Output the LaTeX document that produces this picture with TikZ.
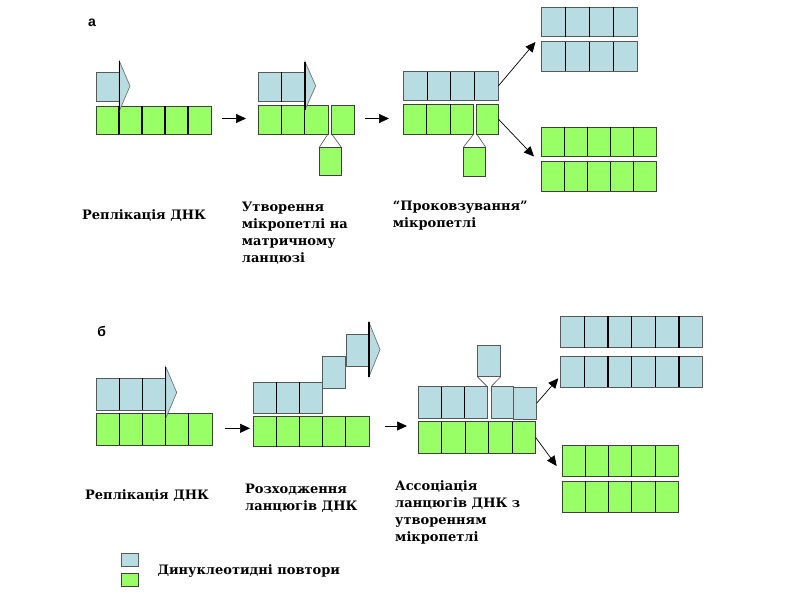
\documentclass[tikz,border=0pt]{standalone}
\usepackage{fontspec}
\setmainfont{DejaVu Serif}
\newfontfamily\sansf{Liberation Sans}
\usetikzlibrary{calc,arrows.meta}
\definecolor{lblue}{RGB}{183,221,227}
\definecolor{lgreen}{RGB}{153,255,102}
\tikzset{
  cellb/.style={draw=black!65, fill=lblue, line width=0.9pt, inner sep=0, outer sep=0},
  cellg/.style={draw=black!75, fill=lgreen, line width=0.9pt, inner sep=0, outer sep=0},
  sepline/.style={black, line width=1.1pt},
  conn/.style={-{Triangle[length=10pt,width=9pt]}, line width=0.7pt, black},
  loopline/.style={black!70, line width=0.6pt},
  penn/.style={fill=lblue, draw=black!55, line width=0.7pt, line join=miter},
  pennedge/.style={black, line width=1.1pt},
  lab/.style={anchor=north west, inner sep=0, align=left, font=\bfseries\fontsize{13}{17}\selectfont},
  panellab/.style={anchor=center, inner sep=0, font=\sansf\bfseries\fontsize{14}{16}\selectfont},
}
\newcommand{\dnarow}[7]{%
  \node[#2, minimum width=#5pt, minimum height=#6pt, anchor=north west] (#1) at (#3,#4) {};
  \pgfmathtruncatemacro{\nsep}{#7-1}%
  \foreach \k in {1,...,\nsep}{%
    \draw[sepline] ($(#1.north west)!{\k/#7}!(#1.north east)$) -- ($(#1.south west)!{\k/#7}!(#1.south east)$);}%
}
\newcommand{\dnacell}[6]{%
  \node[#2, minimum width=#5pt, minimum height=#6pt, anchor=north west] (#1) at (#3,#4) {};%
}
\newcommand{\pennant}[4]{% x, ytop, tipx, ybot
  \draw[penn] (#1,#2) -- (#3,{(#2+#4)/2}) -- (#1,#4) -- cycle;
  \draw[pennedge] (#1,#2) -- (#1,#4);
}
\begin{document}
\begin{tikzpicture}[x=1pt,y=-1pt]
\useasboundingbox (0,0) rectangle (800,600);

% ---------- panel a ----------
\node[panellab] (la) at (92,23) {а};

% a1
\dnarow{a1g}{cellg}{96}{106}{115}{28}{5}
\dnacell{a1b}{cellb}{96}{72.5}{23.3}{29}
\pennant{119.3}{61}{130}{111}

\coordinate (a12s) at (222,118.5);
\coordinate (a12e) at (246,118.5);
\draw[conn] (a12s) -- (a12e);

% a2
\dnarow{a2b}{cellb}{258.3}{72}{46.7}{29.7}{2}
\dnarow{a2g}{cellg}{258.3}{105}{69.7}{29}{3}
\dnacell{a2gs}{cellg}{331.7}{105}{22.6}{29}
\dnacell{a2loop}{cellg}{319}{147.7}{22.7}{28}
\draw[loopline] (a2g.south east) -- (a2loop.north west);
\draw[loopline] (a2gs.south west) -- (a2loop.north east);
\pennant{305}{61.7}{315.7}{110}

\coordinate (a23s) at (365,118.5);
\coordinate (a23e) at (389,118.5);
\draw[conn] (a23s) -- (a23e);

% a3
\dnarow{a3b}{cellb}{403.3}{71.7}{95}{28.6}{4}
\dnarow{a3g}{cellg}{403.3}{104}{70.4}{30}{3}
\dnacell{a3gs}{cellg}{476.7}{104}{21.6}{30}
\dnacell{a3loop}{cellg}{463.3}{147.3}{22.4}{29.4}
\draw[loopline] (a3g.south east) -- (a3loop.north west);
\draw[loopline] (a3gs.south west) -- (a3loop.north east);

% a4
\dnarow{a4b1}{cellb}{541.7}{7.3}{95.6}{29.4}{4}
\dnarow{a4b2}{cellb}{541.7}{41.7}{95.6}{29.3}{4}
\dnarow{a4g1}{cellg}{541.7}{127.3}{115}{28.7}{5}
\dnarow{a4g2}{cellg}{541.7}{161.7}{115}{29.3}{5}
\coordinate (a3up) at (535.5,42);
\coordinate (a3dn) at (534,156.5);
\draw[conn] (a3b.east) -- (a3up);
\draw[conn] (a3gs.east) -- (a3dn);

% labels a
\node[lab] (ta1) at (82,209) {Реплікація ДНК};
\node[lab] (ta2) at (241.7,202) {Утворення\\мікропетлі на\\матричному\\ланцюзі};
\node[lab] (ta3) at (392.7,201) {“Проковзування”\\мікропетлі};

% ---------- panel b ----------
\node[panellab] (lb) at (101.7,331.7) {б};

% b1
\dnarow{b1g}{cellg}{96}{413.3}{116}{31.7}{5}
\dnarow{b1b}{cellb}{96}{378.3}{69.7}{31.7}{3}
\pennant{165.7}{366.7}{176.7}{418.3}

\coordinate (b12s) at (225,428.3);
\coordinate (b12e) at (250,428.3);
\draw[conn] (b12s) -- (b12e);

% b2
\dnarow{b2g}{cellg}{253.3}{416.7}{115.7}{30}{5}
\dnarow{b2b}{cellb}{253.3}{382}{69.4}{31}{3}
\dnacell{b2c4}{cellb}{322.7}{356.7}{23}{31.6}
\dnacell{b2c5}{cellb}{346}{334.3}{23}{31.7}
\pennant{369}{322.3}{380}{376.7}

\coordinate (b23s) at (385,426);
\coordinate (b23e) at (407,426);
\draw[conn] (b23s) -- (b23e);

% b3
\dnarow{b3g}{cellg}{418.3}{421.7}{117.4}{31.6}{5}
\dnarow{b3b}{cellb}{418.3}{386.7}{69}{31.6}{3}
\dnacell{b3bs}{cellb}{491}{386.7}{22.3}{31.6}
\dnacell{b3bx}{cellb}{513.3}{387.3}{23.4}{31.7}
\dnacell{b3loop}{cellb}{477.3}{345}{23.4}{31.7}
\draw[loopline] (b3loop.south west) -- (b3b.north east);
\draw[loopline] (b3loop.south east) -- (b3bs.north west);

% b4
\dnarow{b4b1}{cellb}{560.7}{316}{142}{31.7}{6}
\dnarow{b4b2}{cellb}{560.7}{356}{142}{31.3}{6}
\dnarow{b4g1}{cellg}{562.3}{445.7}{116}{31}{5}
\dnarow{b4g2}{cellg}{562.3}{481}{116}{31.3}{5}
\coordinate (b3up) at (558.3,378.3);
\coordinate (b3dn) at (556.7,466);
\draw[conn] (b3bx.east) -- (b3up);
\draw[conn] (b3g.east) -- (b3dn);

% labels b
\node[lab] (tb1) at (85,489) {Реплікація ДНК};
\node[lab] (tb2) at (245,484) {Розходження\\ланцюгів ДНК};
\node[lab] (tb3) at (395,480) {Ассоціація\\ланцюгів ДНК з\\утворенням\\мікропетлі};

% legend
\dnacell{legb}{cellb}{121.7}{553.3}{16.6}{13.4}
\dnacell{legg}{cellg}{121.7}{573.3}{16.6}{13.4}
\node[lab] (tleg) at (157.3,564) {Динуклеотидні повтори};
\end{tikzpicture}
\end{document}
